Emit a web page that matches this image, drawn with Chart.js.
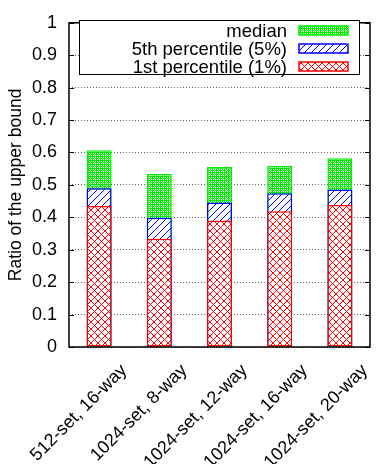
<!DOCTYPE html>
<html>
<head>
<meta charset="utf-8">
<script src="https://cdn.jsdelivr.net/npm/chart.js@4"></script>
<style>
  html, body { margin: 0; padding: 0; background: #fff; }
  #bound_chart { display: block; }
</style>
</head>
<body>
<canvas id="bound_chart" width="378" height="464"></canvas>
<script>
// 데이터 ----------
const categories = ['512-set, 16-way', '1024-set, 8-way', '1024-set, 12-way', '1024-set, 16-way', '1024-set, 20-way'];
const seriesLabels = ['median', '5th percentile (5%)', '1st percentile (1%)'];
const medianVals = [0.607, 0.534, 0.555, 0.558, 0.582];
const pct5Vals = [0.490, 0.399, 0.446, 0.474, 0.486];
const pct1Vals = [0.435, 0.334, 0.390, 0.419, 0.438];

const RED = '#ff0000';
const BLUE = '#0000ff';
const GREEN = '#00ee00';
const FONT = '"Liberation Sans", Arial, sans-serif';

// 패턴 타일 (흰 바탕 위에 픽셀 단위로 찍음)
function makePattern(color, size, isInk) {
  let c = document.createElement('canvas');
  c.width = size;
  c.height = size;
  let g = c.getContext('2d');
  g.fillStyle = '#fff';
  g.fillRect(0, 0, size, size);
  g.fillStyle = color;
  for (let x = 0; x < size; x++) {
    for (let y = 0; y < size; y++) {
      if (isInk(x, y, size)) g.fillRect(x, y, 1, 1);
    }
  }
  return g.createPattern(c, 'repeat');
}

const greenFill = makePattern(GREEN, 4, (x, y) => !(x % 2 === 1 && y % 2 === 1) && !(x === 2 && y === 2));
const blueFill = makePattern(BLUE, 7, (x, y, n) => y === n - 1 - x);
const redFill = makePattern(RED, 7, (x, y, n) => y === x || y === n - 1 - x);

// 범례 + 테두리 그리기
const frameAndLegend = {
  id: 'frameAndLegend',
  afterDatasetsDraw(chart) {
    const ctx = chart.ctx;
    const a = chart.chartArea;
    ctx.save();

    // 축 테두리
    ctx.strokeStyle = '#000';
    ctx.lineWidth = 1.5;
    ctx.strokeRect(a.left, a.top, a.right - a.left, a.bottom - a.top);

    // 안쪽 눈금
    const ys = chart.scales.y;
    ctx.lineWidth = 1;
    ys.ticks.forEach((t) => {
      const py = Math.round(ys.getPixelForValue(t.value)) + 0.5;
      ctx.beginPath();
      ctx.moveTo(a.left, py); ctx.lineTo(a.left + 5, py);
      ctx.moveTo(a.right - 5, py); ctx.lineTo(a.right, py);
      ctx.stroke();
    });

    // 범례 박스
    const box = { x: 79.5, y: 20.5, w: 280, h: 54 };
    ctx.fillStyle = '#fff';
    ctx.fillRect(box.x, box.y, box.w, box.h);
    ctx.strokeStyle = '#000';
    ctx.lineWidth = 1;
    ctx.strokeRect(box.x, box.y, box.w, box.h);

    ctx.font = '18.5px ' + FONT;
    ctx.textAlign = 'right';
    ctx.textBaseline = 'middle';
    chart.data.datasets.forEach((ds, i) => {
      const cy = 30.5 + i * 18;
      ctx.fillStyle = '#000';
      ctx.fillText(ds.label, 287, cy + 1);
      ctx.fillStyle = ds.backgroundColor;
      ctx.fillRect(299, cy - 4.5, 49, 9);
      ctx.strokeStyle = ds.borderColor;
      ctx.lineWidth = 1.5;
      ctx.strokeRect(299, cy - 4.5, 49, 9);
    });
    ctx.restore();
  }
};

Chart.defaults.font.family = FONT;
Chart.defaults.font.size = 18;
Chart.defaults.color = '#000';

let barStyle = {
  borderWidth: 1.5,
  borderSkipped: false,
  barPercentage: 0.415,
  categoryPercentage: 1.0
};

new Chart(document.getElementById('bound_chart'), {
  type: 'bar',
  data: {
    labels: categories,
    datasets: [
      Object.assign({ label: seriesLabels[0], data: medianVals, backgroundColor: greenFill, borderColor: GREEN, order: 3 }, barStyle),
      Object.assign({ label: seriesLabels[1], data: pct5Vals, backgroundColor: blueFill, borderColor: BLUE, order: 2 }, barStyle),
      Object.assign({ label: seriesLabels[2], data: pct1Vals, backgroundColor: redFill, borderColor: RED, order: 1 }, barStyle)
    ]
  },
  options: {
    responsive: false,
    animation: false,
    layout: { padding: { top: 16, right: 8, left: 0, bottom: 0 } },
    plugins: {
      legend: { display: false },
      tooltip: { enabled: false }
    },
    scales: {
      x: {
        stacked: true,
        grid: { display: false },
        border: { display: false },
        ticks: {
          font: { size: 18 },
          minRotation: 45,
          maxRotation: 45,
          padding: 5,
          labelOffset: 25,
          autoSkip: false
        },
        afterFit(scale) {
          // 회전된 라벨 때문에 생기는 좌우 여백 제거
          scale.height = 117;
          scale.paddingLeft = 0;
          scale.paddingRight = 0;
        }
      },
      y: {
        stacked: false,
        min: 0,
        max: 1,
        border: { display: false, dash: [1, 2] },
        grid: {
          drawTicks: false,
          color: 'rgba(0,0,0,0.6)',
          lineWidth: 1
        },
        ticks: {
          stepSize: 0.1,
          padding: 12,
          callback: (v) => String(Math.round(v * 10) / 10)
        },
        title: {
          display: true,
          text: 'Ratio of the upper bound',
          font: { size: 17.5 },
          padding: { top: 6, bottom: 0 }
        },
        afterFit(scale) { scale.width = 69; }
      }
    }
  },
  plugins: [frameAndLegend]
});
</script>
</body>
</html>
